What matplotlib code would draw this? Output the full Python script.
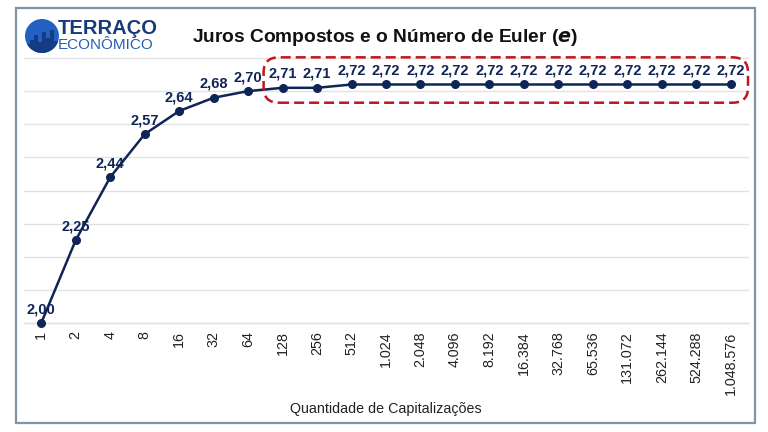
import matplotlib.pyplot as plt
from matplotlib.patches import FancyBboxPatch, Rectangle, Ellipse

# dados
capitalizacoes = ["1", "2", "4", "8", "16", "32", "64", "128", "256", "512",
                  "1.024", "2.048", "4.096", "8.192", "16.384", "32.768",
                  "65.536", "131.072", "262.144", "524.288", "1.048.576"]
valores = [2.00, 2.25, 2.44, 2.57, 2.64, 2.68, 2.70, 2.71, 2.71, 2.72,
           2.72, 2.72, 2.72, 2.72, 2.72, 2.72, 2.72, 2.72, 2.72, 2.72, 2.72]

navy = '#0f2557'
plt.rcParams['font.family'] = ['Liberation Sans', 'DejaVu Sans']

fig = plt.figure(figsize=(7.68, 4.32), dpi=100)
W, H = 768, 432

# moldura externa
fig.patches.append(Rectangle((16 / W, 1 - 423 / H), (755 - 16) / W, (423 - 8) / H,
                             transform=fig.transFigure, fill=False,
                             edgecolor='#7d95a4', linewidth=1.6))

ax = fig.add_axes([24 / W, 1 - 323 / H, (748 - 24) / W, (323 - 58) / H])
x = list(range(len(valores)))
ax.plot(x, valores, color=navy, linewidth=1.8, marker='o', markersize=5.5,
        zorder=3, clip_on=False)

for xi, v in zip(x, valores):
    ax.annotate(f'{v:.2f}'.replace('.', ','), (xi, v), xytext=(0, 5),
                textcoords='offset points', ha='center', va='bottom',
                fontsize=10.5, fontweight='bold', color=navy, zorder=4)

ax.set_xlim(-0.5, len(valores) - 0.5)
ax.set_ylim(2.0, 2.8)
ax.set_yticks([2.0 + 0.1 * i for i in range(9)])
ax.set_yticklabels([])
ax.tick_params(axis='y', length=0)
ax.set_xticks(x)
ax.set_xticklabels(capitalizacoes, rotation=90, fontsize=10.3, color='#222222')
ax.tick_params(axis='x', length=0, pad=6)
ax.grid(axis='y', color='#e2e2e2', linewidth=1, clip_on=False)
ax.set_axisbelow(True)
for s in ax.spines.values():
    s.set_visible(False)
ax.axhline(2.0, color='#dddddd', linewidth=1, zorder=0, clip_on=False)

ax.set_xlabel('Quantidade de Capitalizações', fontsize=10.3, color='#222222', labelpad=5)

# destaque tracejado
box = FancyBboxPatch((6.45, 2.665), 14.05, 0.137,
                     boxstyle='round,pad=0,rounding_size=0.45', mutation_aspect=0.1,
                     fill=False, edgecolor='#c0161c', linewidth=1.8,
                     linestyle=(0, (4, 2)), clip_on=False, zorder=5)
ax.add_patch(box)

# titulo
fig.text(385 / W, 1 - 38 / H, 'Juros Compostos e o Número de Euler ($\\mathbfit{e}$)',
         ha='center', va='center', fontsize=13.8, fontweight='bold', color='#111111')

# logo
circ = Ellipse((42 / W, 1 - 36 / H), 34 / W, 34 / H, transform=fig.transFigure,
               facecolor='#2360c2', edgecolor='none')
fig.patches.append(circ)
for bx, bh in [(26, 10), (30, 14), (34, 19), (38, 12), (42, 22), (46, 16),
               (50, 24), (54, 13)]:
    bar = Rectangle((bx / W, 1 - 54 / H), 3.5 / W, bh / H,
                    transform=fig.transFigure, facecolor='#143c85', edgecolor='none')
    bar.set_clip_path(circ)
    fig.patches.append(bar)
fig.text(58 / W, 1 - 29 / H, 'TERRAÇO', ha='left', va='center', fontsize=14.5,
         fontweight='heavy', color='#173a7a')
fig.text(58 / W, 1 - 45 / H, 'ECONÔMICO', ha='left', va='center', fontsize=11,
         fontweight='light', color='#2a5fb0')

fig.savefig('out.png', dpi=100)
